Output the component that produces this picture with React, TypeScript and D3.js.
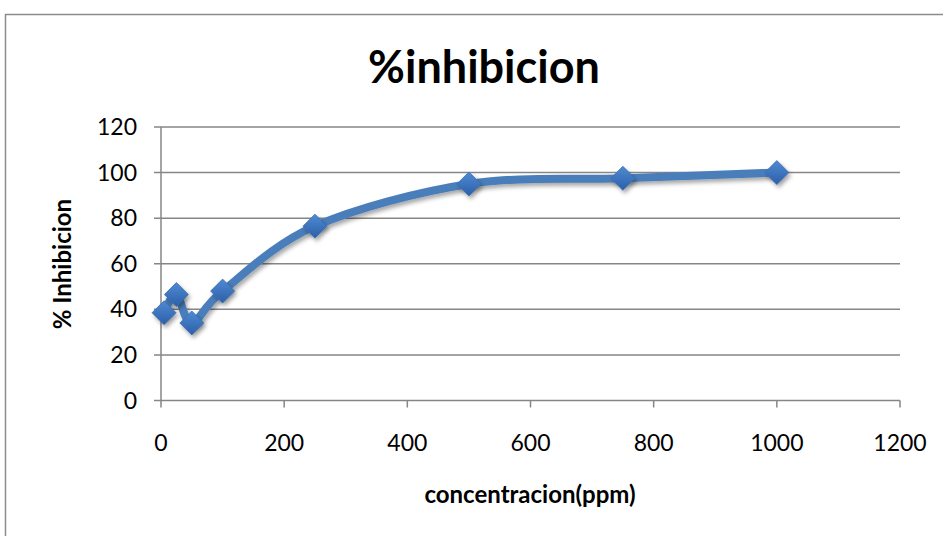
import React from "react";
import * as d3 from "d3";

const concentration = [5, 25, 50, 100, 250, 500, 750, 1000];
const inhibition = [38.5, 46.5, 34, 48, 76.5, 95, 97.5, 100];
const xTicks = [0, 200, 400, 600, 800, 1000, 1200];
const yTicks = [0, 20, 40, 60, 80, 100, 120];

const W = 943;
const H = 536;
const left = 161;
const right = 900;
const top = 127;
const bottom = 400.5;

export default function App() {
  const x = d3.scaleLinear().domain([0, 1200]).range([left, right]);
  const y = d3.scaleLinear().domain([0, 120]).range([bottom, top]);
  const pts: [number, number][] = concentration.map((c, i) => [x(c), y(inhibition[i])]);
  const line = d3.line().curve(d3.curveCardinal.tension(0))(pts) || "";
  const font = "Lato, 'Open Sans', sans-serif";
  const r = 12;
  return (
    <svg width={W} height={H} style={{ position: "absolute", left: 0, top: 0, background: "#fff" }}>
      <defs>
        <linearGradient id="mk" x1="0" y1="0" x2="0" y2="1">
          <stop offset="0" stopColor="#4f8ad4" />
          <stop offset="1" stopColor="#2c5fa8" />
        </linearGradient>
        <filter id="sh" x="-50%" y="-50%" width="200%" height="200%">
          <feDropShadow dx="2" dy="3" stdDeviation="2" floodColor="#000" floodOpacity="0.35" />
        </filter>
      </defs>
      <rect x={5.5} y={14.5} width={960} height={560} fill="#fff" stroke="#8c8c8c" strokeWidth={1.5} />
      <text x={484} y={83} textAnchor="middle" fontFamily={font} fontWeight={700} fontSize={45} fill="#000">
        %inhibicion
      </text>
      {yTicks.map((t) => (
        <g key={"y" + t}>
          <line x1={left - 7} x2={right} y1={y(t)} y2={y(t)} stroke="#868686" strokeWidth={1.5} />
          <text x={137} y={y(t) + 8} textAnchor="end" fontFamily={font} fontSize={23} fill="#000">
            {t}
          </text>
        </g>
      ))}
      <line x1={left} x2={left} y1={top} y2={bottom} stroke="#868686" strokeWidth={1.5} />
      {xTicks.map((t) => (
        <g key={"x" + t}>
          <line x1={x(t)} x2={x(t)} y1={bottom} y2={bottom + 7} stroke="#868686" strokeWidth={1.5} />
          <text x={x(t)} y={451} textAnchor="middle" fontFamily={font} fontSize={23} fill="#000">
            {t}
          </text>
        </g>
      ))}
      <text
        transform={`translate(71,264) rotate(-90)`}
        textAnchor="middle"
        fontFamily={font}
        fontWeight={700}
        fontSize={24}
        fill="#000"
      >
        % Inhibicion
      </text>
      <text x={530} y={503} textAnchor="middle" fontFamily={font} fontWeight={700} fontSize={24} fill="#000">
        concentracion(ppm)
      </text>
      <path d={line} fill="none" stroke="#4a7ebb" strokeWidth={8} strokeLinecap="round" filter="url(#sh)" />
      {pts.map(([px, py], i) => (
        <path
          key={i}
          d={`M${px},${py - r}L${px + r},${py}L${px},${py + r}L${px - r},${py}Z`}
          fill="url(#mk)"
          stroke="#3a6db0"
          strokeWidth={0.8}
          filter="url(#sh)"
        />
      ))}
    </svg>
  );
}
